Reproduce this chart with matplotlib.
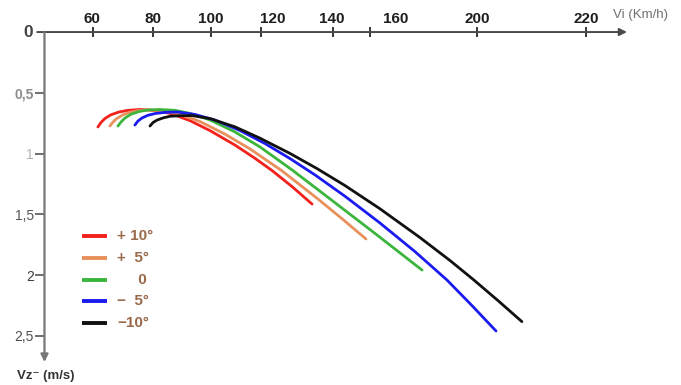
"""
Speed polar chart: sink rate Vz versus airspeed Vi for five trim angles.
"""

import matplotlib.pyplot as plt
from matplotlib.transforms import blended_transform_factory

# ——— data ———
angle_labels = ['+ 10°', '+  5°', '     0', '\u2212  5°', '\u221210°']
curve_colors = ['#f2211c', '#e8915c', '#3bb53b', '#1b1bf0', '#111111']

red_v = [61.7, 62.7, 64.0, 65.9, 68.5, 71.5, 75.4, 80.2, 85.1, 91.6, 98.1, 106.2, 112.7, 118.2, 124.7, 131.2]
red_vz = [0.781, 0.744, 0.711, 0.681, 0.658, 0.644, 0.637, 0.645, 0.669, 0.729, 0.811, 0.930, 1.039, 1.139,
          1.271, 1.415]

orange_v = [65.6, 66.6, 67.9, 69.8, 72.4, 75.0, 78.6, 83.5, 88.3, 94.8, 102.9, 111.1, 121.4, 133.1, 140.9, 148.7]
orange_vz = [0.773, 0.740, 0.710, 0.681, 0.658, 0.646, 0.641, 0.650, 0.677, 0.736, 0.839, 0.962, 1.141, 1.373,
             1.535, 1.702]

green_v = [68.2, 69.2, 70.5, 72.4, 75.0, 77.9, 81.8, 86.7, 91.6, 98.1, 106.2, 114.3, 124.7, 137.0, 151.6, 166.9]
green_vz = [0.773, 0.740, 0.707, 0.677, 0.654, 0.641, 0.637, 0.644, 0.669, 0.723, 0.822, 0.945, 1.134, 1.372,
            1.656, 1.958]

blue_v = [73.7, 74.7, 76.0, 77.9, 80.5, 83.8, 87.7, 93.2, 99.7, 107.8, 115.9, 124.0, 132.2, 141.9, 153.2,
          164.6, 175.0, 183.1, 190.9]
blue_vz = [0.765, 0.732, 0.707, 0.685, 0.669, 0.660, 0.658, 0.678, 0.724, 0.810, 0.917, 1.040, 1.176, 1.351,
           1.570, 1.806, 2.040, 2.250, 2.459]

black_v = [78.6, 79.6, 80.9, 82.9, 85.1, 88.3, 92.2, 98.1, 106.2, 114.3, 124.0, 132.8, 141.9, 153.2, 166.2,
           176.0, 183.4, 191.5, 199.3]
black_vz = [0.773, 0.744, 0.724, 0.706, 0.693, 0.688, 0.687, 0.712, 0.780, 0.873, 0.998, 1.123, 1.263, 1.453,
            1.690, 1.880, 2.033, 2.208, 2.382]

# x ticks sit where the original drawing put them (its scale is not regular)
x_tick_at = [60, 79.5, 98.4, 114.6, 138.1, 150.0, 184.7, 220.0]
x_label_at = [59.8, 79.6, 98.4, 118.5, 137.7, 158.4, 184.7, 220.1]
x_labels = ['60', '80', '100', '120', '140', '160', '200', '220']

y_ticks = [0.5, 1, 1.5, 2, 2.5]
y_labels = ['0,5', '1', '1,5', '2', '2,5']

# ——— style ———
plt.rcParams['font.family'] = ['Liberation Sans', 'DejaVu Sans']

LEGEND_BROWN = '#9a6a4c'
X_AXIS_COLOR = '#4a4a4a'
Y_AXIS_COLOR = '#777777'
y_label_colors = ['#8c8c8c', '#b4b4b4', '#555555', '#3c3c3c', '#505050']
y_label_weights = ['bold', 'normal', 'normal', 'normal', 'normal']
x_tick_colors = ['#333333', '#333333', '#aaaaaa', '#333333', '#aaaaaa', '#333333', '#333333', '#333333']

V_MIN, V_MAX = 44.36, 233.4
VZ_MAX = 2.714

fig = plt.figure(figsize=(6.81, 3.85), dpi=100)
ax = fig.add_axes([0.0653, 0.0597, 0.8554, 0.8571])
ax.set_xlim(V_MIN, V_MAX)
ax.set_ylim(VZ_MAX, 0)
for sp in ax.spines.values():
    sp.set_visible(False)

# ——— curves ———
series = [(red_v, red_vz), (orange_v, orange_vz), (green_v, green_vz),
          (blue_v, blue_vz), (black_v, black_vz)]
for (v, vz), col in zip(series, curve_colors):
    ax.plot(v, vz, color=col, lw=2.0, solid_capstyle='round',
            solid_joinstyle='round', zorder=3)

# ——— axes lines with arrow heads ———
ax.annotate('', xy=(V_MAX, 0), xytext=(42.0, 0), xycoords='data',
            arrowprops=dict(arrowstyle='-|>', color=X_AXIS_COLOR, lw=1.4,
                            mutation_scale=11, shrinkA=0, shrinkB=0),
            annotation_clip=False, zorder=4)
ax.annotate('', xy=(V_MIN, VZ_MAX), xytext=(V_MIN, 0), xycoords='data',
            arrowprops=dict(arrowstyle='-|>', color=Y_AXIS_COLOR, lw=1.6,
                            mutation_scale=11, shrinkA=0, shrinkB=0),
            annotation_clip=False, zorder=4)

# ——— x ticks (top) ———
ax.xaxis.tick_top()
ax.set_xticks(x_tick_at)
ax.set_xticklabels([])
ax.tick_params(axis='x', direction='inout', length=7, width=1.1)
for tk, col in zip(ax.xaxis.get_major_ticks(), x_tick_colors):
    tk.tick2line.set_color(col)

top = blended_transform_factory(ax.transData, ax.transAxes)
for pos, lab in zip(x_label_at, x_labels):
    ax.text(pos, 1.041, lab, transform=top, ha='center', va='center',
            fontsize=11, fontweight='bold', color='#1e1e1e')

# ——— y ticks (left) ———
ax.set_yticks(y_ticks)
ax.set_yticklabels(y_labels)
ax.tick_params(axis='y', direction='out', length=6.5, width=1.2, color='#555555',
               pad=1.2, labelsize=10)
for lab, col, w in zip(ax.get_yticklabels(), y_label_colors, y_label_weights):
    lab.set_color(col)
    lab.set_fontweight(w)

ax.text(-0.0197, 1.0, '0', transform=ax.transAxes, ha='right', va='center',
        fontsize=12.5, fontweight='bold', color='#444444')

# ——— axis titles ———
fig.text(0.900, 0.961, 'Vi (Km/h)', ha='left', va='center', fontsize=9.5, color='#707070')
fig.text(0.025, 0.024, 'Vz\u207b (m/s)', ha='left', va='center', fontsize=9.5,
         fontweight='bold', color='#333333')

# ——— legend (drawn by hand, like the original) ———
row_y = [0.382, 0.316, 0.249, 0.185, 0.118]
for y, col, lab in zip(row_y, curve_colors, angle_labels):
    ax.plot([0.0644, 0.1073], [y, y], transform=ax.transAxes, color=col, lw=2.8,
            solid_capstyle='butt', clip_on=False)
    ax.text(0.1245, y, lab, transform=ax.transAxes, ha='left', va='center',
            fontsize=11, fontweight='bold', color=LEGEND_BROWN)

fig.savefig('out.png', dpi=100, facecolor='white')
